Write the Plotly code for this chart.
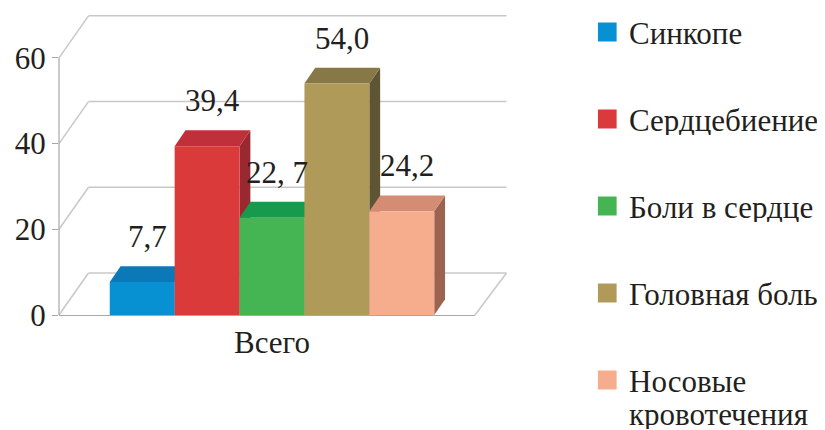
import plotly.graph_objects as go

categories = ["Всего"]
series_names = ["Синкопе", "Сердцебиение", "Боли в сердце", "Головная боль", "Носовые<br>кровотечения"]
values = [7.7, 39.4, 22.7, 54.0, 24.2]
value_labels = ["7,7", "39,4", "22, 7", "54,0", "24,2"]
front_colors = ["#0790d2", "#da3a3a", "#45b452", "#b09a5a", "#f5ad8d"]
top_colors = ["#0b78b8", "#c0303a", "#17994e", "#877848", "#d58c74"]
side_colors = ["#075f92", "#9a2830", "#127a3e", "#5f5434", "#9c6450"]
y_ticks = [0, 20, 40, 60]

FONT = "Liberation Serif"
FS = 31
TXT = "#231f20"
GRID = "#c8c8c8"
Y_MAX = 70
BARGAP = 0.22
DX = 0.026   # bar depth offset in category units
DY = 3.7     # bar depth offset in value units

PLOT_L, PLOT_W, PLOT_T, PLOT_H = 44, 423, 7, 300
def px_x(px):
    return (px - PLOT_L) / PLOT_W
def px_y(py):
    return (PLOT_T + PLOT_H - py) / PLOT_H

fig = go.Figure()
for name, v, c in zip(series_names, [[v] for v in values], front_colors):
    fig.add_trace(go.Bar(
        x=categories, y=v, name=name, marker=dict(color=c, line=dict(width=0)),
        showlegend=False,
    ))

shapes = []
annotations = []

# pseudo-3D walls: back-wall gridlines, left-wall and floor diagonals
WALL_DX = 30 / PLOT_W          # paper units
WALL_DY = 42 / PLOT_H          # paper units
for t in y_ticks:
    yp = t / Y_MAX
    shapes.append(dict(type="line", xref="paper", yref="paper", x0=0, y0=yp,
                       x1=WALL_DX, y1=yp + WALL_DY, line=dict(color=GRID, width=1.5), layer="below"))
    shapes.append(dict(type="line", xref="paper", yref="paper", x0=WALL_DX, y0=yp + WALL_DY,
                       x1=1 + 32 / PLOT_W, y1=yp + WALL_DY, line=dict(color=GRID, width=1.5), layer="below"))
shapes.append(dict(type="line", xref="paper", yref="paper", x0=1, y0=0,
                   x1=1 + 32 / PLOT_W, y1=WALL_DY, line=dict(color=GRID, width=1.5), layer="below"))
# front value axis line (0..60)
shapes.append(dict(type="line", xref="paper", yref="paper", x0=0, y0=0,
                   x1=0, y1=max(y_ticks) / Y_MAX, line=dict(color="#a8a8a8", width=1.2), layer="below"))

n = len(values)
w = (1 - BARGAP) / n
for i, v in enumerate(values):
    x0 = -(1 - BARGAP) / 2 + i * w
    x1 = x0 + w
    side = f"M {x1},0 L {x1+DX},{DY} L {x1+DX},{v+DY} L {x1},{v} Z"
    top = f"M {x0},{v} L {x0+DX},{v+DY} L {x1+DX},{v+DY} L {x1},{v} Z"
    shapes.append(dict(type="path", path=side, xref="x", yref="y",
                       fillcolor=side_colors[i], line=dict(width=0), layer="between"))
    shapes.append(dict(type="path", path=top, xref="x", yref="y",
                       fillcolor=top_colors[i], line=dict(width=0), layer="between"))
    annotations.append(dict(x=(x0 + x1) / 2 + DX / 2, y=v + DY, xref="x", yref="y",
                            text=value_labels[i], showarrow=False, yanchor="bottom",
                            yshift=10, font=dict(family=FONT, size=FS, color=TXT)))

# manual legend
LEG_TOP = 24      # figure px, centre of first entry
LEG_STEP = 87
for i, name in enumerate(series_names):
    cy = LEG_TOP + i * LEG_STEP
    shapes.append(dict(type="rect", xref="paper", yref="paper",
                       x0=px_x(592), x1=px_x(611), y0=px_y(cy - 9.5), y1=px_y(cy + 9.5),
                       fillcolor=front_colors[i], line=dict(width=0)))
    lines = name.split("<br>")
    for j, line in enumerate(lines):
        annotations.append(dict(x=px_x(622), y=px_y(cy + 1 + j * 33), xref="paper", yref="paper",
                                text=line, showarrow=False, xanchor="left", yanchor="middle",
                                height=30, valign="middle",
                                font=dict(family=FONT, size=FS, color=TXT)))

fig.update_layout(
    width=825, height=430,
    margin=dict(l=PLOT_L, r=825 - PLOT_L - PLOT_W, t=PLOT_T, b=430 - PLOT_T - PLOT_H),
    paper_bgcolor="white", plot_bgcolor="white",
    barmode="group", bargap=BARGAP, bargroupgap=0,
    font=dict(family=FONT, size=FS, color=TXT),
    showlegend=False,
    shapes=shapes,
    annotations=annotations,
    xaxis=dict(type="category", range=[-0.512, 0.488], showline=True, linecolor="#a8a8a8",
               linewidth=1.2, ticks="", tickfont=dict(family=FONT, size=FS)),
    yaxis=dict(range=[0, Y_MAX], tickvals=y_ticks, ticktext=[str(t) for t in y_ticks],
               showgrid=False, showline=False,
               ticks="outside", ticklen=6, tickcolor="#a8a8a8", tickwidth=1.2,
               tickfont=dict(family=FONT, size=FS), zeroline=False),
)

fig.write_html("out.html")
